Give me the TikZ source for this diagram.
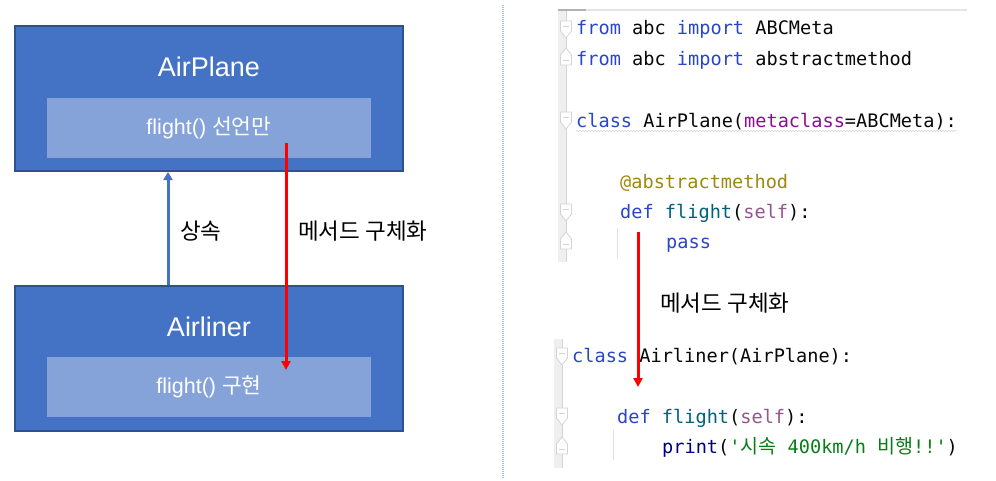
\documentclass[tikz,border=0pt]{standalone}
\usepackage{fontspec}
\setmainfont{Liberation Sans}
\setmonofont{DejaVu Sans Mono}
\newfontfamily\kr{Noto Sans CJK KR}
\usetikzlibrary{arrows.meta,positioning,calc,decorations.pathmorphing}
\definecolor{boxblue}{HTML}{4472C4}
\definecolor{boxedge}{HTML}{2F528F}
\definecolor{slot}{HTML}{85A3D8}
\definecolor{hot}{HTML}{FF0000}
\definecolor{seam}{HTML}{A9BCE0}
\definecolor{kw}{HTML}{2A46C8}
\definecolor{ident}{HTML}{080808}
\definecolor{builtin}{HTML}{000080}
\definecolor{strg}{HTML}{067D17}
\definecolor{deco}{HTML}{9E880D}
\definecolor{fname}{HTML}{00627A}
\definecolor{selfc}{HTML}{94558D}
\definecolor{kwarg}{HTML}{871094}
\definecolor{gutter}{HTML}{EFEFEF}
\definecolor{rule}{HTML}{D4D4D4}

\begin{document}
\begin{tikzpicture}[
  x=1pt,y=-1pt,
  cls/.style={draw=boxedge,fill=boxblue,line width=2pt,minimum width=388pt,minimum height=145pt,inner sep=0pt},
  meth/.style={fill=slot,minimum width=324pt,minimum height=60pt,inner sep=0pt,text=white,font=\fontsize{21.5}{23}\selectfont},
  title/.style={text=white,font=\fontsize{27}{30}\selectfont},
  note/.style={anchor=west,inner sep=0pt,font=\kr\fontsize{22.5}{24}\selectfont},
  code/.style={anchor=base west,inner sep=0pt,text=ident,font=\ttfamily\fontsize{18.6}{20}\selectfont},
  inherit/.style={draw=boxblue,line width=3pt,-{Triangle[length=8pt,width=9pt]}},
  concrete/.style={draw=hot,line width=3pt,-{Triangle[length=9pt,width=9pt]}},
  foldline/.style={draw=rule,fill=white,line width=0.8pt},
  guide/.style={draw=rule!70,line width=1pt},
  foldstart/.pic={\draw[foldline] (-5.5,-8) -- (5.5,-8) -- (5.5,2) -- (0,9) -- (-5.5,2) -- cycle;
    \draw[rule] (-3,-3) -- (3,-3);},
  foldend/.pic={\draw[foldline] (-5.5,8) -- (5.5,8) -- (5.5,-2) -- (0,-9) -- (-5.5,-2) -- cycle;
    \draw[rule] (-3,3) -- (3,3);}
]
\useasboundingbox (0,0) rectangle (996,480);
% the classes
\node[cls] (airplane) at (209,98.5) {};
\node[title] (airplaneName) at (209,67) {AirPlane};
\node[meth] (airplaneMeth) at (209,128) {flight() {\kr 선언만}};
\node[cls] (airliner) at (209,358) {};
\node[title] (airlinerName) at (209,327) {Airliner};
\node[meth] (airlinerMeth) at (209,387) {flight() {\kr 구현}};
\draw[inherit] (airliner.north -| 168,0) -- (airplane.south -| 168,0);
\node[note] (inheritNote) at (180,231) {상속};
\coordinate (declared) at (286,143);
\coordinate (realised) at (286,370);
\draw[concrete] (declared) -- (realised);
\node[note] (concreteNote) at (298,231) {메서드 구체화};
% divider
\draw[seam,line width=1.2pt,dash pattern=on 1pt off 1pt] (503,5) -- (503,478);
% the code, top
\fill[gutter] (558,10) rectangle (566,262);
\draw[rule] (566,10) -- (566,262);
\draw[gray!20,line width=1.5pt] (558,10) -- (967,10);
\draw[gray!60,line width=1.5pt] (558,10) -- (586,10);
\pic at (566,29) {foldstart};
\pic at (566,57) {foldend};
\pic at (566,120) {foldstart};
\pic at (566,212) {foldstart};
\pic at (566,241) {foldend};
\draw[gray!40,decorate,decoration={snake,amplitude=0.8pt,segment length=3pt}] (576,131) -- (957,131);
\draw[guide] (617,228) -- (617,258);
\node[code] (code1) at (576,34) {{\color{kw}from} abc {\color{kw}import} ABCMeta};
\node[code] (code2) at (576,65) {{\color{kw}from} abc {\color{kw}import} abstractmethod};
\node[code] (code3) at (576,127) {{\color{kw}class} AirPlane({\color{kwarg}metaclass}=ABCMeta):};
\node[code] (code4) at (620,188) {{\color{deco}@abstractmethod}};
\node[code] (code5) at (620,218) {{\color{kw}def} {\color{fname}flight}({\color{selfc}self}):};
\node[code] (code6) at (666,248) {{\color{kw}pass}};
% the code, bottom
\fill[gutter] (554,339) rectangle (562,468);
\draw[rule] (562,339) -- (562,468);
\pic at (562,356) {foldstart};
\pic at (562,416) {foldstart};
\pic at (562,446) {foldend};
\draw[guide] (613,430) -- (613,460);
\node[code] (code7) at (572,362) {{\color{kw}class} Airliner(AirPlane):};
\node[code] (code8) at (617,423) {{\color{kw}def} {\color{fname}flight}({\color{selfc}self}):};
\node[code] (code9) at (662,453) {{\color{builtin}print}({\color{strg}'{\kr\fontsize{19.5}{20}\selectfont 시속} 400km/h {\kr\fontsize{19.5}{20}\selectfont 비행}!!'})};
\coordinate (declaredCode) at (638,232);
\coordinate (realisedCode) at (638,387);
\draw[concrete] (declaredCode) -- (realisedCode);
\node[note] (concreteCodeNote) at (660,303) {메서드 구체화};
\end{tikzpicture}
\end{document}
